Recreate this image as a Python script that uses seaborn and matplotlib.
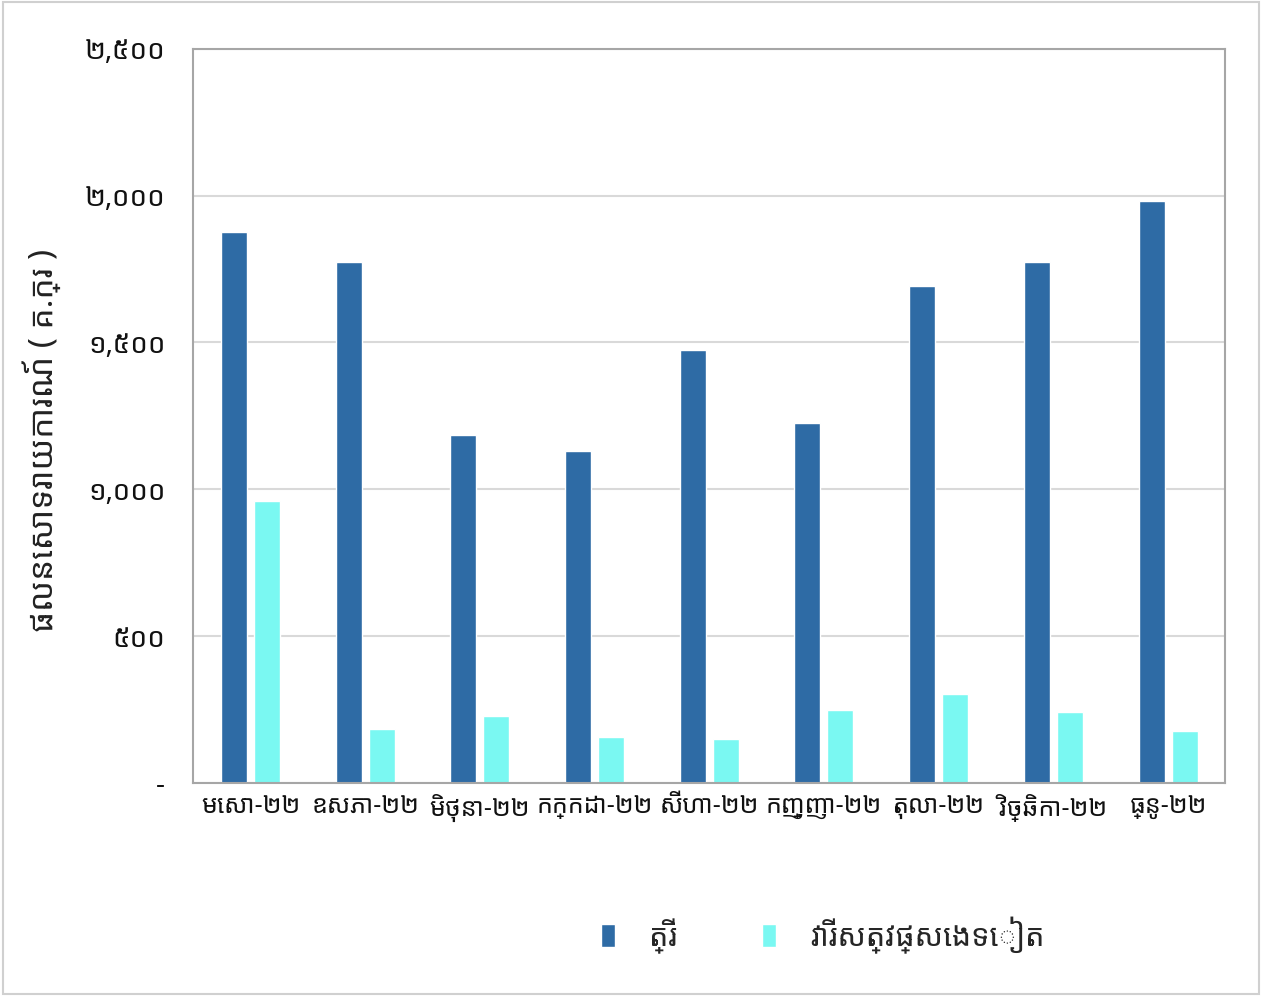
import matplotlib
matplotlib.use("Agg")
import matplotlib.pyplot as plt
from matplotlib.ticker import FixedLocator
import pandas as pd
import seaborn as sns

# Data
months = ["មេសា-២២", "ឧសភា-២២", "មិថុនា-២២", "កក្កដា-២២", "សីហា-២២",
          "កញ្ញា-២២", "តុលា-២២", "វិច្ឆិកា-២២", "ធ្នូ-២២"]
fish = [1877, 1775, 1185, 1131, 1475, 1226, 1693, 1775, 1982]
other = [960, 184, 228, 157, 150, 249, 303, 242, 177]
series_names = ["ត្រី", "វារីសត្វផ្សេងទៀត"]
y_ticks = [0, 500, 1000, 1500, 2000, 2500]
y_tick_labels = ["-", "៥០០", "១,០០០", "១,៥០០", "២,០០០", "២,៥០០"]
y_label = "ផលនេសាទរាយការណ៍ ( គ.ក្រ )"

df = pd.DataFrame({
    "month": months * 2,
    "value": fish + other,
    "series": [series_names[0]] * len(months) + [series_names[1]] * len(months),
})

sns.set_style("white")
# Khmer needs a font with Khmer glyphs
plt.rcParams["font.family"] = ["Noto Sans Khmer", "Battambang", "Hanuman", "DejaVu Sans"]

fig, ax = plt.subplots(figsize=(12.62, 9.96), dpi=100)
fig.subplots_adjust(left=0.153, right=0.971, top=0.951, bottom=0.214)

sns.barplot(data=df, x="month", y="value", hue="series",
            palette=["#2E6BA5", "#7AF8F2"], width=0.575, gap=0.21,
            saturation=1, ax=ax, legend=True)

ax.set_ylim(0, 2500)
ax.yaxis.set_major_locator(FixedLocator(y_ticks))
ax.set_yticklabels(y_tick_labels)
ax.grid(axis="y", color="#D9D9D9", linewidth=1.5)
ax.set_axisbelow(True)
for s in ax.spines.values():
    s.set_color("#A6A6A6")
    s.set_linewidth(1.5)
ax.tick_params(axis="both", length=0, colors="#111111")
ax.tick_params(axis="y", pad=20, labelsize=20)
ax.tick_params(axis="x", pad=8, labelsize=18)
ax.set_xlabel("")
ax.set_ylabel(y_label, fontsize=24, color="#222222")
ax.yaxis.set_label_coords(-0.128, 0.467)

handles, labels = ax.get_legend_handles_labels()
ax.legend_.remove()
fig.legend(handles, labels, loc="center", bbox_to_anchor=(0.652, 0.061),
           ncol=2, frameon=False, fontsize=22, handlelength=0.45,
           handleheight=0.75, columnspacing=2.8, handletextpad=1.1)

# thin light frame around the whole picture
fig.patches.append(plt.Rectangle((0.002, 0.002), 0.996, 0.996, transform=fig.transFigure,
                                 fill=False, edgecolor="#D0D0D0", linewidth=1.5))

fig.savefig("out.png", dpi=100, facecolor="white")
